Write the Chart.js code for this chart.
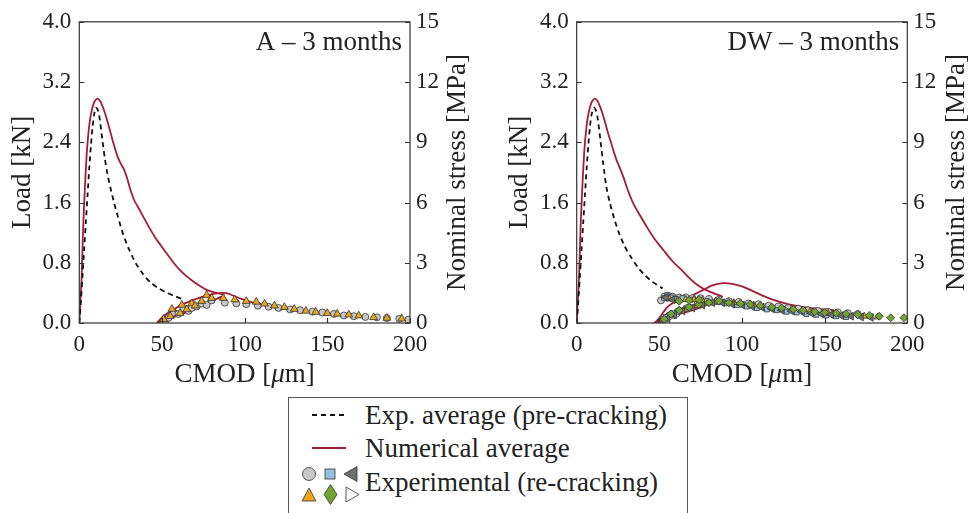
<!DOCTYPE html>
<html>
<head>
<meta charset="utf-8">
<script src="https://cdn.jsdelivr.net/npm/chart.js@4.4.1/dist/chart.umd.min.js"></script>
<style>
  body { margin: 0; background: #fff; width: 971px; height: 513px; overflow: hidden; position: relative; }
  canvas { position: absolute; top: 0; }
  #chartA { left: 0; }
  #chartDW { left: 490px; }
  #legend { position: absolute; left: 288px; top: 397px; width: 400px; height: 125px; border: 1.2px solid #555; box-sizing: border-box; font-family: "Liberation Serif", "DejaVu Serif", serif; font-size: 27px; color: #222; }
  #legend .txt { position: absolute; left: 76px; line-height: 30px; white-space: nowrap; }
  #legend svg { position: absolute; left: 0; top: 0; }
</style>
</head>
<body>
<canvas id="chartA" width="485" height="390"></canvas>
<canvas id="chartDW" width="481" height="390"></canvas>
<div id="legend">
  <svg width="100" height="125">
    <line x1="23" y1="17" x2="57" y2="17" stroke="#111" stroke-width="1.8" stroke-dasharray="5 4"/>
    <line x1="23" y1="50" x2="57" y2="50" stroke="#a51c36" stroke-width="1.8"/>
    <circle cx="20" cy="76" r="6.5" fill="#c8c8c8" stroke="#333" stroke-width="0.8"/>
    <rect x="36" y="71" width="10" height="10" fill="#8fc3dc" stroke="#333" stroke-width="0.8"/>
    <polygon points="55,76 68,68.5 68,83.5" fill="#6e6e6e" stroke="#333" stroke-width="0.8"/>
    <polygon points="13,103 27,103 20,90" fill="#eaa51a" stroke="#333" stroke-width="0.8"/>
    <polygon points="41.5,86.5 48,96.5 41.5,106.5 35,96.5" fill="#6fa52e" stroke="#333" stroke-width="0.8"/>
    <polygon points="70,96.5 57,89 57,104" fill="#fff" stroke="#333" stroke-width="0.8"/>
  </svg>
  <div class="txt" style="top:2px">Exp. average (pre-cracking)</div>
  <div class="txt" style="top:35px">Numerical average</div>
  <div class="txt" style="top:69px">Experimental (re-cracking)</div>
</div>
<script>
// ---- data: CMOD in micrometres, load in kN ----

// A - 3 months
const aExpAvgX = [0, 1, 2, 3, 4, 5, 6, 7, 8, 9, 10, 11, 12, 13, 14, 15.5, 17, 19, 21, 23.5, 26.5, 30, 34, 38.5, 43, 48, 53, 58, 62];
const aExpAvgY = [0, 0.3, 0.65, 1.0, 1.35, 1.7, 2.05, 2.35, 2.6, 2.77, 2.86, 2.84, 2.76, 2.6, 2.42, 2.18, 1.98, 1.78, 1.6, 1.4, 1.18, 0.98, 0.8, 0.65, 0.54, 0.46, 0.4, 0.355, 0.32];

const aNumX = [0, 0.7, 1.4, 2.4, 3.5, 4.5, 5.5, 6.5, 7.5, 8.5, 9.5, 11, 12.5, 14, 15.5, 17, 19, 21, 23, 25, 27, 28.7, 30.5, 33, 36, 39, 42, 45.5, 49, 53, 57, 61, 65, 69, 73, 77, 81, 85, 87.5,
  85, 82, 78, 73, 67, 61, 56, 51, 48, 47,
  49, 52, 57, 62, 67, 72, 77, 82, 87, 90, 94, 98, 105, 112, 120, 130, 140, 150, 156];
const aNumY = [0, 0.3, 0.6, 1.3, 1.85, 2.25, 2.52, 2.7, 2.82, 2.9, 2.95, 2.98, 2.95, 2.88, 2.79, 2.68, 2.52, 2.36, 2.22, 2.12, 2.04, 1.94, 1.8, 1.64, 1.52, 1.4, 1.28, 1.15, 1.04, 0.92, 0.8, 0.7, 0.62, 0.55, 0.49, 0.44, 0.41, 0.39, 0.37,
  0.34, 0.31, 0.27, 0.22, 0.16, 0.11, 0.07, 0.035, 0.01, 0,
  0.05, 0.11, 0.18, 0.24, 0.29, 0.33, 0.365, 0.39, 0.4, 0.39, 0.355, 0.32, 0.27, 0.235, 0.2, 0.17, 0.145, 0.125, 0.115];

const aCircleX = [52, 54, 57, 60, 63, 66, 68, 71, 74, 77, 80, 88, 95, 101, 108, 114.5, 120.5, 127.5, 133.5, 141, 147, 154, 160, 166, 173, 180, 186, 193.5, 199];
const aCircleY = [0.03, 0.07, 0.14, 0.12, 0.19, 0.16, 0.2, 0.22, 0.26, 0.24, 0.3, 0.27, 0.26, 0.25, 0.23, 0.215, 0.2, 0.18, 0.17, 0.15, 0.14, 0.12, 0.1, 0.09, 0.08, 0.075, 0.065, 0.055, 0.045];
const aTriX = [51, 55, 56, 61, 62, 65, 68, 70, 74, 77, 80, 87, 94, 101, 107, 112, 118, 124, 130, 137, 143, 150, 156, 163, 169, 178, 186, 195];
const aTriY = [0.05, 0.09, 0.185, 0.13, 0.24, 0.18, 0.26, 0.23, 0.29, 0.37, 0.33, 0.33, 0.31, 0.29, 0.28, 0.255, 0.23, 0.21, 0.185, 0.16, 0.145, 0.13, 0.12, 0.11, 0.097, 0.075, 0.066, 0.057];

// DW - 3 months
const dwExpAvgX = [0, 1, 2, 3, 4, 5, 6, 7, 8, 9, 10.5, 11.5, 12.5, 13.5, 14.5, 16, 18, 20, 22.5, 25.5, 29, 33, 37, 41, 45, 49, 52];
const dwExpAvgY = [0, 0.3, 0.65, 1.0, 1.35, 1.7, 2.05, 2.35, 2.6, 2.77, 2.86, 2.83, 2.74, 2.58, 2.4, 2.12, 1.8, 1.6, 1.4, 1.2, 1.02, 0.87, 0.74, 0.64, 0.56, 0.5, 0.46];

const dwNumX = [0, 0.7, 1.4, 2.4, 3.5, 4.5, 5.5, 6.5, 7.5, 8.5, 9.5, 11, 12.5, 14, 15.5, 17, 19, 21, 22.5, 24, 25.5, 28.2, 31, 34.2, 38, 42.3, 47, 52.4, 58, 64.5, 69.5, 74.6, 80, 84.7, 88,
  86, 83, 80, 76.6, 70, 64, 60, 55, 50, 47,
  48.5, 50, 52, 54.4, 57, 60.5, 66.5, 72, 76.6, 82, 88.7, 94, 100.8, 107, 112.9, 120, 129, 141, 150, 156];
const dwNumY = [0, 0.3, 0.6, 1.3, 1.85, 2.25, 2.52, 2.7, 2.82, 2.9, 2.95, 2.98, 2.95, 2.88, 2.79, 2.68, 2.52, 2.38, 2.27, 2.17, 2.09, 1.94, 1.76, 1.59, 1.44, 1.28, 1.12, 0.97, 0.82, 0.68, 0.57, 0.48, 0.42, 0.38, 0.35,
  0.32, 0.29, 0.26, 0.22, 0.17, 0.13, 0.105, 0.07, 0.03, 0,
  0.03, 0.07, 0.13, 0.2, 0.25, 0.29, 0.33, 0.39, 0.44, 0.5, 0.53, 0.52, 0.48, 0.42, 0.36, 0.3, 0.245, 0.2, 0.18, 0.17];

const dwCircleX = [51, 53, 55, 58, 62, 66, 70, 75, 80, 52, 56, 61, 67, 73, 79, 86, 92, 98, 104, 110, 116, 122, 128, 134, 140, 146, 152, 158, 164, 170];
const dwCircleY = [0.3, 0.35, 0.36, 0.35, 0.34, 0.34, 0.33, 0.33, 0.32, 0.04, 0.1, 0.15, 0.2, 0.25, 0.28, 0.31, 0.29, 0.28, 0.26, 0.25, 0.23, 0.22, 0.2, 0.19, 0.17, 0.16, 0.15, 0.14, 0.13, 0.12];
const dwSquareX = [53, 55, 57, 60, 64, 69, 74, 51, 54, 58, 63, 69, 75, 80, 85, 91, 97, 103, 109, 115, 121, 127, 133, 139, 145, 151, 157, 163];
const dwSquareY = [0.33, 0.37, 0.34, 0.32, 0.33, 0.31, 0.3, 0.02, 0.08, 0.13, 0.17, 0.21, 0.25, 0.27, 0.28, 0.26, 0.24, 0.22, 0.2, 0.18, 0.17, 0.15, 0.14, 0.12, 0.11, 0.1, 0.09, 0.08];
const dwLeftTriX = [52, 55, 59, 64, 70, 76, 82, 54, 58, 88, 94, 100, 106, 112, 118, 124, 130, 136, 142, 148, 154, 160, 166, 172, 178];
const dwLeftTriY = [0.01, 0.06, 0.11, 0.16, 0.2, 0.24, 0.27, 0.34, 0.31, 0.27, 0.25, 0.24, 0.22, 0.21, 0.19, 0.17, 0.16, 0.15, 0.13, 0.12, 0.11, 0.1, 0.09, 0.08, 0.075];
const dwTriX = [56, 61, 66, 71, 76, 57, 65, 73, 84, 95, 107, 118, 130, 141, 152, 163, 174, 182];
const dwTriY = [0.32, 0.3, 0.31, 0.31, 0.3, 0.12, 0.18, 0.23, 0.29, 0.27, 0.24, 0.21, 0.18, 0.15, 0.13, 0.11, 0.09, 0.08];
const dwDiamondX = [53, 57, 62, 68, 74, 80, 62, 68, 74, 86, 92, 99, 105, 111, 118, 124, 131, 137, 144, 150, 157, 163, 170, 177, 183, 190, 198];
const dwDiamondY = [0.05, 0.12, 0.17, 0.21, 0.25, 0.27, 0.29, 0.3, 0.31, 0.29, 0.27, 0.26, 0.25, 0.23, 0.21, 0.2, 0.18, 0.17, 0.15, 0.14, 0.13, 0.12, 0.11, 0.1, 0.09, 0.07, 0.07];
const dwRightTriX = [52, 56, 60, 96, 126, 156];
const dwRightTriY = [0.02, 0.07, 0.1, 0.25, 0.18, 0.12];

// ---- styling ----
const serif = '"Liberation Serif", "DejaVu Serif", serif';
const textColor = '#222';
const red = '#a51c36';
const edge = '#333';

function pts(xs, ys) {
  return xs.map((x, i) => ({ x: x, y: ys[i] }));
}

function lineSet(xs, ys, color, dash) {
  return {
    data: pts(xs, ys), showLine: true, borderColor: color, borderWidth: 1.8,
    borderDash: dash || [], pointRadius: 0, tension: 0.25, fill: false, yAxisID: 'y'
  };
}

function markerSet(xs, ys, style, color, radius, rotation) {
  return {
    data: pts(xs, ys), showLine: false, pointStyle: style, rotation: rotation || 0,
    pointRadius: radius, backgroundColor: color, borderColor: edge, borderWidth: 0.8, yAxisID: 'y'
  };
}

// frame, inward ticks, titles and panel label
const decorPlugin = {
  id: 'decor',
  afterDraw(chart, args, opts) {
    const { ctx, chartArea: a, scales } = chart;
    ctx.save();
    ctx.strokeStyle = edge;
    ctx.lineWidth = 1.2;
    ctx.strokeRect(a.left, a.top, a.right - a.left, a.bottom - a.top);
    ctx.beginPath();
    scales.x.ticks.forEach(t => {
      const px = Math.round(scales.x.getPixelForValue(t.value)) + 0.5;
      ctx.moveTo(px, a.bottom); ctx.lineTo(px, a.bottom - 5);
    });
    scales.y.ticks.forEach(t => {
      const py = Math.round(scales.y.getPixelForValue(t.value)) + 0.5;
      ctx.moveTo(a.left, py); ctx.lineTo(a.left + 5, py);
    });
    scales.y2.ticks.forEach(t => {
      const py = Math.round(scales.y2.getPixelForValue(t.value)) + 0.5;
      ctx.moveTo(a.right, py); ctx.lineTo(a.right - 5, py);
    });
    ctx.stroke();

    const midY = (a.top + a.bottom) / 2;
    ctx.fillStyle = textColor;
    ctx.font = '27px ' + serif;
    ctx.textBaseline = 'middle';
    ctx.textAlign = 'center';

    // y titles, both read bottom to top
    [[opts.loadX, 'Load [kN]'], [opts.stressX, 'Nominal stress [MPa]']].forEach(([x, txt]) => {
      ctx.save();
      ctx.translate(x, midY);
      ctx.rotate(-Math.PI / 2);
      ctx.fillText(txt, 0, 0);
      ctx.restore();
    });

    // x title with italic mu
    const parts = [['CMOD [', ''], ['\u03bc', 'italic '], ['m]', '']];
    let total = 0;
    parts.forEach(p => { ctx.font = p[1] + '27px ' + serif; total += ctx.measureText(p[0]).width; });
    let cx = (a.left + a.right) / 2 - total / 2;
    ctx.textAlign = 'left';
    parts.forEach(p => {
      ctx.font = p[1] + '27px ' + serif;
      ctx.fillText(p[0], cx, 375);
      cx += ctx.measureText(p[0]).width;
    });

    // panel label
    ctx.textAlign = 'right';
    ctx.font = '27px ' + serif;
    ctx.fillText(opts.label, a.right - 8, 43);
    ctx.restore();
  }
};

function makeChart(id, datasets, leftW, rightW, label, loadX, stressX) {
  const tickFont = { family: serif, size: 23 };
  return new Chart(document.getElementById(id), {
    type: 'scatter',
    data: { datasets: datasets },
    plugins: [decorPlugin],
    options: {
      responsive: false,
      animation: false,
      layout: { padding: { top: 21, bottom: 0, left: 0, right: 0 } },
      plugins: {
        legend: { display: false },
        tooltip: { enabled: false },
        decor: { label: label, loadX: loadX, stressX: stressX }
      },
      scales: {
        x: {
          type: 'linear', min: 0, max: 200,
          grid: { display: false, drawTicks: false }, border: { display: false },
          ticks: { stepSize: 50, padding: 8, color: textColor, font: tickFont, maxRotation: 0 },
          afterFit: s => { s.height = 67; }
        },
        y: {
          position: 'left', min: 0, max: 4,
          grid: { display: false, drawTicks: false }, border: { display: false },
          ticks: { stepSize: 0.8, padding: 8, color: textColor, font: tickFont, callback: v => v.toFixed(1) },
          afterFit: s => { s.width = leftW; }
        },
        y2: {
          position: 'right', min: 0, max: 15, display: true,
          grid: { display: false, drawTicks: false }, border: { display: false },
          ticks: { stepSize: 3, padding: 6, color: textColor, font: tickFont },
          afterFit: s => { s.width = rightW; }
        }
      }
    }
  });
}

// earlier entries are painted on top
makeChart('chartA', [
  markerSet(aTriX, aTriY, 'triangle', '#eaa51a', 4.5),
  markerSet(aCircleX, aCircleY, 'circle', '#c8c8c8', 3.5),
  lineSet(aExpAvgX, aExpAvgY, '#111', [5, 4]),
  lineSet(aNumX, aNumY, red)
], 79.3, 75, 'A \u2013 3 months', 23, 458);

makeChart('chartDW', [
  markerSet(dwDiamondX, dwDiamondY, 'rectRot', '#6fa52e', 4),
  markerSet(dwLeftTriX, dwLeftTriY, 'triangle', '#6e6e6e', 4.5, -90),
  markerSet(dwTriX, dwTriY, 'triangle', '#eaa51a', 4),
  markerSet(dwSquareX, dwSquareY, 'rect', '#8fc3dc', 3.5),
  markerSet(dwRightTriX, dwRightTriY, 'triangle', '#ffffff', 4, 90),
  markerSet(dwCircleX, dwCircleY, 'circle', '#c8c8c8', 3.5),
  lineSet(dwExpAvgX, dwExpAvgY, '#111', [5, 4]),
  lineSet(dwNumX, dwNumY, red)
], 86.7, 63.7, 'DW \u2013 3 months', 30, 467);
</script>
</body>
</html>
